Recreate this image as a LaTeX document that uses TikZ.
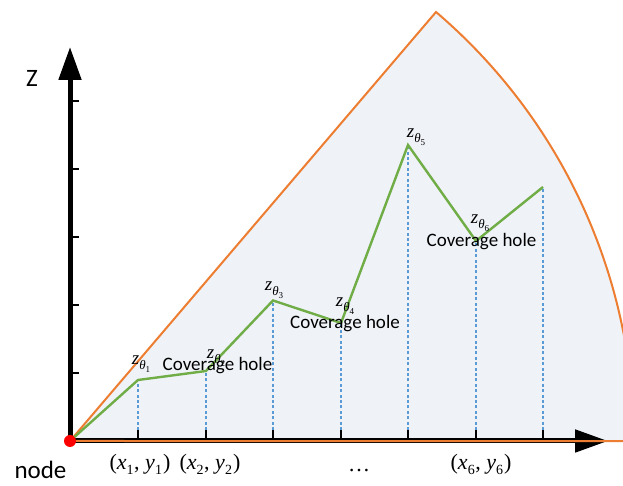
\documentclass[tikz,border=0pt]{standalone}
\usepackage{fontspec}
\newfontfamily\carlito{Carlito}
\newfontfamily\tms{Liberation Serif}
\usetikzlibrary{arrows.meta}
\definecolor{sectorfill}{RGB}{239,243,248}
\definecolor{orng}{RGB}{237,125,49}
\definecolor{grn}{RGB}{112,173,71}
\definecolor{blu}{RGB}{91,155,213}
\newcommand{\zth}[1]{\textit{z}\raisebox{-5pt}{\fontsize{13}{13}\selectfont\itshape θ\raisebox{-3pt}{\fontsize{9}{9}\selectfont\upshape #1}}}
\newcommand{\lowsub}[1]{\raisebox{-4.5pt}{\fontsize{14}{14}\selectfont #1}}
\newcommand{\pxy}[1]{(\textit{x}\lowsub{#1}\kern0.5pt, \textit{y}\lowsub{#1}\kern1pt)}
\tikzset{
  axisline/.style={line width=5pt,-{Triangle[length=33pt,width=22pt]}},
  xtick/.style={line width=1.8pt},
  ytick/.style={line width=1.4pt},
  rimline/.style={orng,line width=2pt,line join=miter},
  profile/.style={grn,line width=2.4pt,line join=miter},
  dropline/.style={blu,line width=2pt,dash pattern=on 3pt off 2.4pt},
  holelabel/.style={font=\carlito\fontsize{19}{21}\selectfont,anchor=base,inner sep=0pt},
  zlabel/.style={font=\tms\fontsize{19}{21}\selectfont,inner sep=0pt},
  xylabel/.style={font=\tms\fontsize{22}{24}\selectfont,anchor=base,inner sep=0pt},
  axislabel/.style={font=\carlito\fontsize{25}{27}\selectfont,anchor=base,inner sep=0pt}
}
\begin{document}
\begin{tikzpicture}[x=1pt,y=1pt]
\useasboundingbox (0,0) rectangle (623,486);
\clip (0,0) rectangle (623,486);
% key points
\coordinate (O) at (70,45);
\coordinate (A) at (436,474);
\coordinate (ytip) at (70,439);
\coordinate (xtip) at (608,45);
\coordinate (p1) at (138,106);
\coordinate (p2) at (206,115);
\coordinate (p3) at (273,185.5);
\coordinate (p4) at (341,163);
\coordinate (p5) at (408,341);
\coordinate (p6) at (476,245);
\coordinate (p7) at (543,299);
% sector fill
\fill[sectorfill] (O) -- (A) arc[start angle=49.53,end angle=0,radius=564] -- cycle;
% axes
\draw[axisline] (O) -- (ytip);
\draw[axisline] (O) -- (xtip);
\foreach \yy in {113,181,249,317,385} \draw[ytick] (70,\yy) -- (79,\yy);
% drop lines and ticks
\foreach \p in {p1,p2,p3,p4,p5,p6,p7} {
  \coordinate (b\p) at (\p |- 0,56);
  \coordinate (t\p) at (\p |- O);
  \draw[dropline] (b\p) -- (\p);
  \draw[xtick] (t\p) -- (b\p);
}
% sector outline
\draw[rimline] (O) -- (A) arc[start angle=49.53,end angle=0,radius=564] -- cycle;
% profile
\draw[profile] (O) -- (p1) -- (p2) -- (p3) -- (p4) -- (p5) -- (p6) -- (p7);
% origin node
\fill[red] (O) circle (6pt);
% labels
\node[axislabel] (zlab) at (32,399) {Z};
\node[axislabel] (nodelab) at (40.5,7) {node};
\node[zlabel] (z1) at (141,122) {\zth{1}};
\node[zlabel] (z2) at (216,128) {\zth{2}};
\node[zlabel] (z3) at (274,196) {\zth{3}};
\node[zlabel] (z4) at (345,180) {\zth{4}};
\node[zlabel] (z5) at (416,349) {\zth{5}};
\node[zlabel] (z6) at (480,263) {\zth{6}};
\node[holelabel] (h1) at (217.5,115) {Coverage hole};
\node[holelabel] (h2) at (345,157) {Coverage hole};
\node[holelabel] (h3) at (481.5,239) {Coverage hole};
\node[xylabel] (c1) at (140,16) {\pxy{1}};
\node[xylabel] (c2) at (210,16) {\pxy{2}};
\node[xylabel] (c3) at (359,14) {…};
\node[xylabel] (c6) at (481,16) {\pxy{6}};
\end{tikzpicture}
\end{document}
